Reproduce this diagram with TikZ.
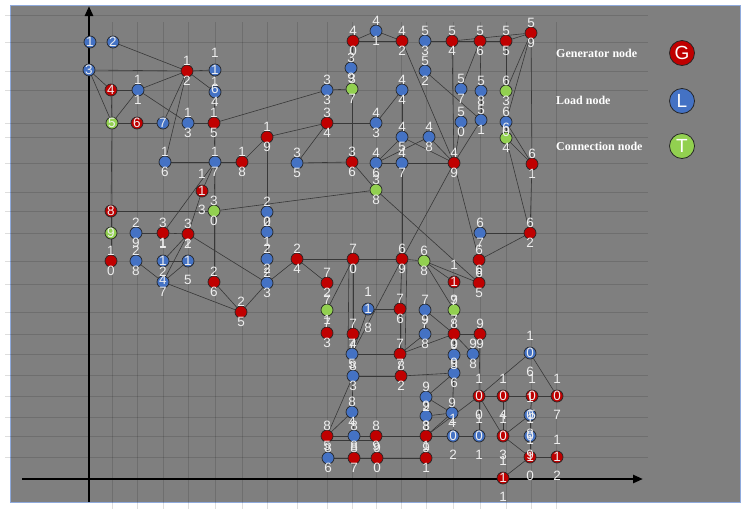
\documentclass[tikz,border=0pt]{standalone}
\usepackage{fontspec}
\setmainfont{Liberation Serif}
\newfontfamily\dfont{Liberation Sans}
\usetikzlibrary{arrows.meta}
\pgfdeclarelayer{bglayer}
\pgfdeclarelayer{gridlayer}
\pgfdeclarelayer{edgelayer}
\pgfdeclarelayer{labellayer}
\pgfsetlayers{bglayer,gridlayer,edgelayer,main,labellayer}
\definecolor{bggray}{HTML}{7F7F7F}
\definecolor{genred}{HTML}{C00000}
\definecolor{loadblue}{HTML}{4472C4}
\definecolor{conngreen}{HTML}{92D050}
\definecolor{digitcol}{HTML}{EEEEEE}
\definecolor{edgecol}{HTML}{383838}
\definecolor{framecol}{HTML}{8FAADC}
\tikzset{
 bus/.style={circle, draw=black!85, line width=0.7pt, minimum size=12pt, inner sep=0pt},
 gen/.style={bus, fill=genred},
 load/.style={bus, fill=loadblue},
 conn/.style={bus, fill=conngreen},
 dig/.style={inner sep=0pt, text=digitcol, font=\dfont\fontsize{13.5}{13.5}\selectfont},
 link/.style={draw=edgecol, line width=0.6pt},
 gridline/.style={draw=black, opacity=0.13, line width=0.8pt},
 axisline/.style={line width=2.6pt, -{Triangle[length=10pt,width=8pt]}},
 legtext/.style={text=white, font=\bfseries\fontsize{12}{12}\selectfont, anchor=west, inner sep=0pt},
 legbus/.style={circle, draw=black!85, line width=0.8pt, minimum size=25pt, inner sep=0pt, text=white, font=\dfont\fontsize{19}{19}\selectfont},
}
\newcommand\nA[5]{\node[#4] (n#1) at (#2,#3) {};
 \begin{pgfonlayer}{labellayer}\node[dig] at (#2,#3) {#5};\end{pgfonlayer}}
\newcommand\nB[6]{\node[#4] (n#1) at (#2,#3) {};
 \begin{pgfonlayer}{labellayer}\node[dig] at (#2,#3-10) {#5};\node[dig] at (#2,#3+10) {#6};\end{pgfonlayer}}
\newcommand\nC[7]{\node[#4] (n#1) at (#2,#3) {};
 \begin{pgfonlayer}{labellayer}\node[dig] at (#2,#3-17) {#5};\node[dig] at (#2,#3) {#6};\node[dig] at (#2,#3+19) {#7};\end{pgfonlayer}}
\begin{document}
\begin{tikzpicture}[x=1pt,y=-1pt]
\useasboundingbox (0,0) rectangle (751,509);
\begin{pgfonlayer}{bglayer}
\fill[white] (0,0) rectangle (751,509);
\draw[framecol, fill=bggray, line width=0.8pt] (10,5) rectangle (740,502);
\end{pgfonlayer}
\begin{pgfonlayer}{gridlayer}
\foreach \gy in {15,42,71,90,123,137,163,192,211,233,261,284,312,334,354,375,396,417,436,457}
  \draw[gridline] (5,\gy) -- (648,\gy);
\foreach \gx in {112,137,163,188,215,242,267,297,327,352,376,401,426,453,480,506,531,556}
  \draw[gridline] (\gx,22) -- (\gx,509);
\end{pgfonlayer}
% nodes
\nA{1}{90}{42}{load}{1}
\nA{2}{113}{42}{load}{2}
\nA{3}{89}{70}{load}{3}
\nA{4}{111}{90}{gen}{4}
\nA{5}{112}{123}{conn}{5}
\nA{6}{137}{123}{gen}{6}
\nA{7}{163}{123}{load}{7}
\nA{8}{111}{211}{gen}{8}
\nA{9}{111}{233}{conn}{9}
\nB{10}{111}{261}{gen}{1}{0}
\nB{11}{138}{90}{load}{1}{1}
\nB{12}{187}{71}{gen}{1}{2}
\nB{13}{188}{123}{load}{1}{3}
\nB{14}{215}{92}{load}{1}{4}
\nB{15}{214}{123}{gen}{1}{5}
\nB{16}{165}{162}{load}{1}{6}
\nB{17}{215}{162}{load}{1}{7}
\nB{18}{242}{162}{gen}{1}{8}
\nB{19}{267}{137}{gen}{1}{9}
\nB{20}{267}{212}{load}{2}{0}
\nB{21}{267}{232}{load}{2}{1}
\nB{22}{267}{259}{load}{2}{2}
\nB{23}{267}{283}{load}{2}{3}
\nB{24}{297}{259}{gen}{2}{4}
\nB{25}{241}{312}{gen}{2}{5}
\nB{26}{214}{282}{gen}{2}{6}
\nB{27}{163}{282}{load}{2}{7}
\nB{28}{136}{261}{load}{2}{8}
\nB{29}{136}{233}{load}{2}{9}
\nB{30}{214}{211}{conn}{3}{0}
\nB{31}{163}{233}{gen}{3}{1}
\nB{32}{188}{234}{gen}{3}{2}
\nB{33}{327}{90}{load}{3}{3}
\nB{34}{327}{123}{gen}{3}{4}
\nB{35}{297}{163}{load}{3}{5}
\nB{36}{352}{162}{gen}{3}{6}
\nB{37}{352}{89}{conn}{3}{7}
\nB{38}{376}{190}{conn}{3}{8}
\nB{39}{351}{68}{load}{3}{9}
\nB{40}{353}{41}{gen}{4}{0}
\nB{41}{376}{31}{load}{4}{1}
\nB{42}{402}{41}{gen}{4}{2}
\nB{43}{376}{123}{load}{4}{3}
\nB{44}{402}{90}{load}{4}{4}
\nB{45}{402}{137}{load}{4}{5}
\nB{46}{376}{163}{load}{4}{6}
\nB{47}{402}{163}{load}{4}{7}
\nB{48}{429}{137}{load}{4}{8}
\nB{49}{454}{163}{gen}{4}{9}
\nB{50}{461}{122}{load}{5}{0}
\nB{51}{481}{120}{load}{5}{1}
\nB{52}{425}{71}{load}{5}{2}
\nB{53}{425}{41}{load}{5}{3}
\nB{54}{452}{41}{gen}{5}{4}
\nB{55}{506}{41}{gen}{5}{5}
\nB{56}{480}{41}{gen}{5}{6}
\nB{57}{461}{89}{load}{5}{7}
\nB{58}{481}{91}{load}{5}{8}
\nB{59}{531}{33}{gen}{5}{9}
\nB{60}{506}{122}{load}{6}{0}
\nB{61}{532}{164}{gen}{6}{1}
\nB{62}{530}{233}{gen}{6}{2}
\nB{63}{506}{91}{conn}{6}{3}
\nB{64}{506}{138}{conn}{6}{4}
\nB{65}{479}{283}{gen}{6}{5}
\nB{66}{479}{260}{gen}{6}{6}
\nB{67}{480}{233}{load}{6}{7}
\nB{68}{424}{261}{conn}{6}{8}
\nB{69}{402}{259}{gen}{6}{9}
\nB{70}{353}{259}{gen}{7}{0}
\nB{71}{327}{310}{conn}{7}{1}
\nB{72}{327}{283}{gen}{7}{2}
\nB{73}{327}{333}{gen}{7}{3}
\nB{74}{353}{334}{gen}{7}{4}
\nB{75}{352}{354}{load}{7}{5}
\nB{76}{400}{309}{gen}{7}{6}
\nB{77}{400}{354}{gen}{7}{7}
\nB{78}{425}{334}{load}{7}{8}
\nB{79}{425}{310}{load}{7}{9}
\nB{80}{454}{334}{gen}{8}{0}
\nB{81}{426}{436}{gen}{8}{1}
\nB{82}{401}{376}{gen}{8}{2}
\nB{83}{353}{376}{load}{8}{3}
\nB{84}{352}{412}{load}{8}{4}
\nB{85}{327}{436}{gen}{8}{5}
\nB{86}{328}{458}{load}{8}{6}
\nB{87}{354}{458}{gen}{8}{7}
\nB{88}{354}{436}{load}{8}{8}
\nB{89}{376}{436}{gen}{8}{9}
\nB{90}{377}{458}{gen}{9}{0}
\nB{91}{426}{458}{gen}{9}{1}
\nB{92}{426}{397}{load}{9}{2}
\nB{93}{426}{416}{load}{9}{3}
\nB{94}{452}{413}{load}{9}{4}
\nB{95}{454}{355}{load}{9}{5}
\nB{96}{454}{373}{load}{9}{6}
\nB{97}{454}{310}{conn}{9}{7}
\nB{98}{473}{354}{load}{9}{8}
\nB{99}{480}{334}{gen}{9}{9}
\nC{100}{479}{396}{gen}{1}{0}{0}
\nC{101}{479}{436}{load}{1}{0}{1}
\nC{102}{453}{436}{load}{1}{0}{2}
\nC{103}{503}{436}{gen}{1}{0}{3}
\nC{104}{503}{396}{gen}{1}{0}{4}
\nC{105}{532}{396}{gen}{1}{0}{5}
\nC{106}{530}{353}{load}{1}{0}{6}
\nC{107}{557}{396}{gen}{1}{0}{7}
\nC{108}{530}{415}{load}{1}{0}{8}
\nC{109}{530}{436}{load}{1}{0}{9}
\nC{110}{530}{457}{gen}{1}{1}{0}
\nC{111}{503}{478}{gen}{1}{1}{1}
\nC{112}{557}{457}{gen}{1}{1}{2}
\nC{113}{202}{191}{gen}{1}{1}{3}
\nC{114}{163}{261}{load}{1}{1}{4}
\nC{115}{188}{261}{load}{1}{1}{5}
\nC{116}{215}{70}{load}{1}{1}{6}
\nC{117}{454}{282}{gen}{1}{1}{7}
\nC{118}{368}{309}{load}{1}{1}{8}
% legend
\node[legtext] (lgt1) at (556,53) {Generator node};
\node[legtext] (lgt2) at (556,100) {Load node};
\node[legtext] (lgt3) at (556,146) {Connection node};
\node[legbus, fill=genred] (lgG) at (682,53) {G};
\node[legbus, fill=loadblue] (lgL) at (682,101) {L};
\node[legbus, fill=conngreen] (lgT) at (682,146) {T};
% axes and links
\begin{pgfonlayer}{edgelayer}
\coordinate (yb) at (89,502); \coordinate (yt) at (89,6);
\coordinate (xl) at (22,479); \coordinate (xr) at (643,479);
\draw[axisline] (yb) -- (yt);
\draw[axisline] (xl) -- (xr);
\foreach \a/\b in {2/12,3/12,12/116,3/4,3/5,4/11,4/5,11/12,11/5,11/13,12/14,12/16,12/7,116/14,14/15,5/6,6/7,13/15,15/33,15/17,16/17,17/18,5/8,8/9,9/10,8/30,30/38,17/30,30/26,17/31,17/113,113/32,29/31,31/32,32/114,32/27,32/23,114/115,115/27,28/27,27/25,26/25,25/23,23/24,19/20,20/21,21/22,22/23,18/19,34/19,34/43,34/35,35/36,36/37,37/33,36/38,38/65,40/41,41/42,40/42,40/39,39/37,40/37,42/49,53/54,54/56,56/55,55/59,54/59,54/49,56/57,56/58,58/51,55/63,59/63,59/60,59/61,52/51,44/43,44/45,45/46,46/48,45/49,46/47,47/49,48/49,47/69,49/50,49/51,49/69,49/66,60/64,60/61,64/61,64/62,61/62,62/67,62/66,66/65,68/65,68/117,68/97,69/68,70/69,24/70,24/72,70/71,70/74,69/76,76/77,69/75,118/75,118/76,79/78,79/80,77/78,77/80,80/99,80/95,80/98,97/80,99/100,95/96,96/92,96/94,92/94,93/94,81/94,81/100,92/93,81/93,81/102,102/101,100/101,100/104,104/105,105/107,100/103,104/103,103/108,103/110,106/107,100/106,105/108,108/109,109/110,110/112,110/111,83/82,82/96,75/77,77/82,83/85,84/85,84/88,85/88,88/89,89/81,86/87,87/90,90/91,81/91,75/83,83/84,85/86}
  \draw[link] (n\a) -- (n\b);
\draw[link] ([xshift=-4pt]n70.center) -- ([xshift=-4pt]n75.center);
\draw[link] ([xshift=5pt]n69.center) -- ([xshift=5pt]n77.center);
\draw[link] ([yshift=-4pt]n85.center) -- ([yshift=-4pt]n89.center);
\end{pgfonlayer}
\end{tikzpicture}
\end{document}
